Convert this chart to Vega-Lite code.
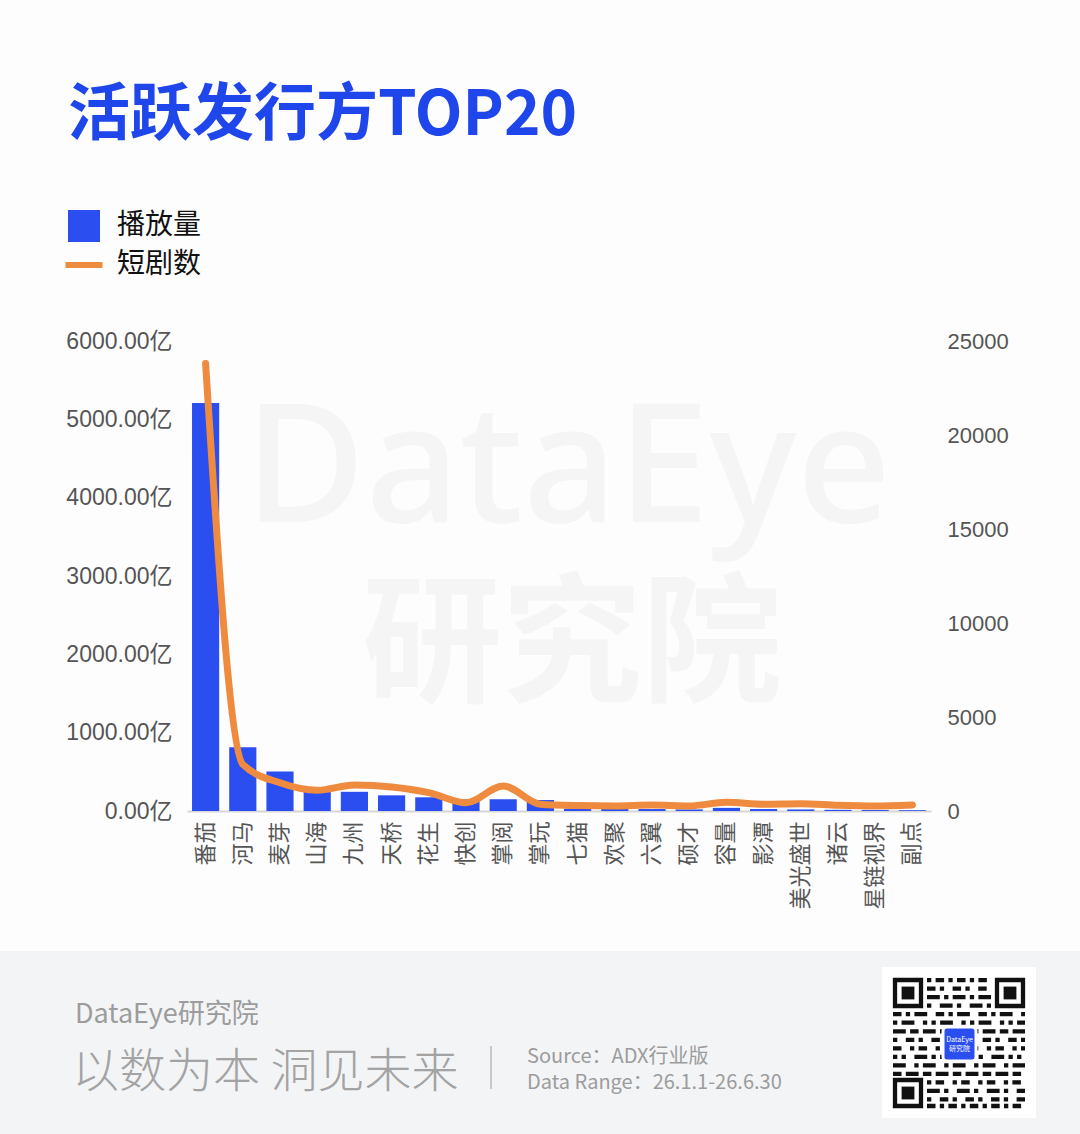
{
  "$schema": "https://vega.github.io/schema/vega-lite/v6.json",
  "background": "#fdfdfd",
  "padding": {"left": 0, "right": 0, "top": 85, "bottom": 0},
  "autosize": {"type": "pad"},
  "width": 744,
  "height": 470,
  "title": {
    "text": "活跃发行方TOP20",
    "anchor": "start",
    "frame": "group",
    "dx": -119,
    "offset": 64,
    "fontSize": 62,
    "fontWeight": "bold",
    "font": "Noto Sans CJK SC",
    "color": "#1f46ea"
  },
  "config": {
    "view": {"stroke": null},
    "axis": {
      "grid": false,
      "ticks": false,
      "labelFont": "Liberation Sans, Noto Sans CJK SC",
      "labelFontSize": 22,
      "labelColor": "#555555",
      "title": null
    }
  },
  "layer": [
    {
      "data": {"values": [{}]},
      "layer": [
        {
          "mark": {"type": "text", "text": "DataEye", "fontSize": 165, "font": "Noto Sans", "fontWeight": 500, "color": "#f5f5f5", "align": "center", "baseline": "alphabetic"},
          "encoding": {
            "x": {"datum": 568, "type": "quantitative", "scale": {"domain": [187, 931], "nice": false, "zero": false}, "axis": null},
            "y": {"datum": 521, "type": "quantitative", "scale": {"domain": [340, 810], "reverse": true, "nice": false, "zero": false}, "axis": null}
          }
        },
        {
          "mark": {"type": "text", "text": "研究院", "fontSize": 140, "font": "Noto Sans CJK SC", "fontWeight": "bold", "color": "#f5f5f5", "align": "center", "baseline": "alphabetic"},
          "encoding": {
            "x": {"datum": 572, "type": "quantitative", "scale": {"domain": [187, 931], "nice": false, "zero": false}, "axis": null},
            "y": {"datum": 690, "type": "quantitative", "scale": {"domain": [340, 810], "reverse": true, "nice": false, "zero": false}, "axis": null}
          }
        },
        {
          "mark": {"type": "rect", "color": "#f3f4f6"},
          "encoding": {
            "x": {"datum": 0, "type": "quantitative", "scale": {"domain": [187, 931], "nice": false, "zero": false}, "axis": null},
            "x2": {"datum": 1080},
            "y": {"datum": 950, "type": "quantitative", "scale": {"domain": [340, 810], "reverse": true, "nice": false, "zero": false}, "axis": null},
            "y2": {"datum": 1134}
          }
        },
        {
          "mark": {"type": "text", "text": "DataEye研究院", "fontSize": 27, "font": "Noto Sans CJK SC", "color": "#9c9c9c", "align": "left", "baseline": "alphabetic"},
          "encoding": {
            "x": {"datum": 75, "type": "quantitative", "scale": {"domain": [187, 931], "nice": false, "zero": false}, "axis": null},
            "y": {"datum": 1022, "type": "quantitative", "scale": {"domain": [340, 810], "reverse": true, "nice": false, "zero": false}, "axis": null}
          }
        },
        {
          "mark": {"type": "text", "text": "以数为本 洞见未来", "fontSize": 47, "font": "Noto Sans CJK SC", "fontWeight": 300, "color": "#a3a3a3", "align": "left", "baseline": "alphabetic"},
          "encoding": {
            "x": {"datum": 72, "type": "quantitative", "scale": {"domain": [187, 931], "nice": false, "zero": false}, "axis": null},
            "y": {"datum": 1086, "type": "quantitative", "scale": {"domain": [340, 810], "reverse": true, "nice": false, "zero": false}, "axis": null}
          }
        },
        {
          "mark": {"type": "rule", "color": "#c8c8c8", "strokeWidth": 2},
          "encoding": {
            "x": {"datum": 491, "type": "quantitative", "scale": {"domain": [187, 931], "nice": false, "zero": false}, "axis": null},
            "y": {"datum": 1045, "type": "quantitative", "scale": {"domain": [340, 810], "reverse": true, "nice": false, "zero": false}, "axis": null},
            "y2": {"datum": 1088}
          }
        },
        {
          "mark": {"type": "text", "text": "Source：ADX行业版", "fontSize": 20, "font": "Noto Sans CJK SC", "color": "#9c9c9c", "align": "left", "baseline": "alphabetic"},
          "encoding": {
            "x": {"datum": 527, "type": "quantitative", "scale": {"domain": [187, 931], "nice": false, "zero": false}, "axis": null},
            "y": {"datum": 1062, "type": "quantitative", "scale": {"domain": [340, 810], "reverse": true, "nice": false, "zero": false}, "axis": null}
          }
        },
        {
          "mark": {"type": "text", "text": "Data Range：26.1.1-26.6.30", "fontSize": 20, "font": "Noto Sans CJK SC", "color": "#9c9c9c", "align": "left", "baseline": "alphabetic"},
          "encoding": {
            "x": {"datum": 527, "type": "quantitative", "scale": {"domain": [187, 931], "nice": false, "zero": false}, "axis": null},
            "y": {"datum": 1088, "type": "quantitative", "scale": {"domain": [340, 810], "reverse": true, "nice": false, "zero": false}, "axis": null}
          }
        },
        {
          "mark": {"type": "rect", "color": "#ffffff"},
          "encoding": {
            "x": {"datum": 882, "type": "quantitative", "scale": {"domain": [187, 931], "nice": false, "zero": false}, "axis": null},
            "x2": {"datum": 1036},
            "y": {"datum": 966, "type": "quantitative", "scale": {"domain": [340, 810], "reverse": true, "nice": false, "zero": false}, "axis": null},
            "y2": {"datum": 1117}
          }
        },
        {
          "mark": {"type": "rule", "color": "#111111", "strokeWidth": 4.3, "strokeDash": [4.3, 4.3, 8.5, 4.3]},
          "encoding": {
            "x": {"datum": 927, "type": "quantitative", "scale": {"domain": [187, 931], "nice": false, "zero": false}, "axis": null},
            "x2": {"datum": 991},
            "y": {"datum": 979.1, "type": "quantitative", "scale": {"domain": [340, 810], "reverse": true, "nice": false, "zero": false}, "axis": null}
          }
        },
        {
          "mark": {"type": "rule", "color": "#111111", "strokeWidth": 4.3, "strokeDash": [8.5, 4.3, 4.3, 8.5]},
          "encoding": {
            "x": {"datum": 927, "type": "quantitative", "scale": {"domain": [187, 931], "nice": false, "zero": false}, "axis": null},
            "x2": {"datum": 991},
            "y": {"datum": 987.7, "type": "quantitative", "scale": {"domain": [340, 810], "reverse": true, "nice": false, "zero": false}, "axis": null}
          }
        },
        {
          "mark": {"type": "rule", "color": "#111111", "strokeWidth": 4.3, "strokeDash": [12.8, 4.3, 4.3, 4.3]},
          "encoding": {
            "x": {"datum": 927, "type": "quantitative", "scale": {"domain": [187, 931], "nice": false, "zero": false}, "axis": null},
            "x2": {"datum": 991},
            "y": {"datum": 996.2, "type": "quantitative", "scale": {"domain": [340, 810], "reverse": true, "nice": false, "zero": false}, "axis": null}
          }
        },
        {
          "mark": {"type": "rule", "color": "#111111", "strokeWidth": 4.3, "strokeDash": [4.3, 8.5, 12.8, 4.3]},
          "encoding": {
            "x": {"datum": 927, "type": "quantitative", "scale": {"domain": [187, 931], "nice": false, "zero": false}, "axis": null},
            "x2": {"datum": 991},
            "y": {"datum": 1004.7, "type": "quantitative", "scale": {"domain": [340, 810], "reverse": true, "nice": false, "zero": false}, "axis": null}
          }
        },
        {
          "mark": {"type": "rule", "color": "#111111", "strokeWidth": 4.3, "strokeDash": [8.5, 4.3, 4.3, 4.3, 12.8, 8.5]},
          "encoding": {
            "x": {"datum": 893, "type": "quantitative", "scale": {"domain": [187, 931], "nice": false, "zero": false}, "axis": null},
            "x2": {"datum": 1025},
            "y": {"datum": 1013.2, "type": "quantitative", "scale": {"domain": [340, 810], "reverse": true, "nice": false, "zero": false}, "axis": null}
          }
        },
        {
          "mark": {"type": "rule", "color": "#111111", "strokeWidth": 4.3, "strokeDash": [4.3, 4.3, 12.8, 8.5, 4.3, 4.3]},
          "encoding": {
            "x": {"datum": 893, "type": "quantitative", "scale": {"domain": [187, 931], "nice": false, "zero": false}, "axis": null},
            "x2": {"datum": 1025},
            "y": {"datum": 1021.7, "type": "quantitative", "scale": {"domain": [340, 810], "reverse": true, "nice": false, "zero": false}, "axis": null}
          }
        },
        {
          "mark": {"type": "rule", "color": "#111111", "strokeWidth": 4.3, "strokeDash": [12.8, 4.3, 8.5, 4.3]},
          "encoding": {
            "x": {"datum": 893, "type": "quantitative", "scale": {"domain": [187, 931], "nice": false, "zero": false}, "axis": null},
            "x2": {"datum": 1025},
            "y": {"datum": 1030.3, "type": "quantitative", "scale": {"domain": [340, 810], "reverse": true, "nice": false, "zero": false}, "axis": null}
          }
        },
        {
          "mark": {"type": "rule", "color": "#111111", "strokeWidth": 4.3, "strokeDash": [4.3, 8.5, 8.5, 4.3]},
          "encoding": {
            "x": {"datum": 893, "type": "quantitative", "scale": {"domain": [187, 931], "nice": false, "zero": false}, "axis": null},
            "x2": {"datum": 1025},
            "y": {"datum": 1038.8, "type": "quantitative", "scale": {"domain": [340, 810], "reverse": true, "nice": false, "zero": false}, "axis": null}
          }
        },
        {
          "mark": {"type": "rule", "color": "#111111", "strokeWidth": 4.3, "strokeDash": [8.5, 8.5, 4.3, 4.3]},
          "encoding": {
            "x": {"datum": 893, "type": "quantitative", "scale": {"domain": [187, 931], "nice": false, "zero": false}, "axis": null},
            "x2": {"datum": 1025},
            "y": {"datum": 1047.3, "type": "quantitative", "scale": {"domain": [340, 810], "reverse": true, "nice": false, "zero": false}, "axis": null}
          }
        },
        {
          "mark": {"type": "rule", "color": "#111111", "strokeWidth": 4.3, "strokeDash": [4.3, 4.3, 4.3, 8.5, 12.8, 4.3]},
          "encoding": {
            "x": {"datum": 893, "type": "quantitative", "scale": {"domain": [187, 931], "nice": false, "zero": false}, "axis": null},
            "x2": {"datum": 1025},
            "y": {"datum": 1055.8, "type": "quantitative", "scale": {"domain": [340, 810], "reverse": true, "nice": false, "zero": false}, "axis": null}
          }
        },
        {
          "mark": {"type": "rule", "color": "#111111", "strokeWidth": 4.3, "strokeDash": [12.8, 8.5, 4.3, 4.3]},
          "encoding": {
            "x": {"datum": 893, "type": "quantitative", "scale": {"domain": [187, 931], "nice": false, "zero": false}, "axis": null},
            "x2": {"datum": 1025},
            "y": {"datum": 1064.3, "type": "quantitative", "scale": {"domain": [340, 810], "reverse": true, "nice": false, "zero": false}, "axis": null}
          }
        },
        {
          "mark": {"type": "rule", "color": "#111111", "strokeWidth": 4.3, "strokeDash": [8.5, 4.3, 12.8, 4.3]},
          "encoding": {
            "x": {"datum": 893, "type": "quantitative", "scale": {"domain": [187, 931], "nice": false, "zero": false}, "axis": null},
            "x2": {"datum": 1025},
            "y": {"datum": 1072.9, "type": "quantitative", "scale": {"domain": [340, 810], "reverse": true, "nice": false, "zero": false}, "axis": null}
          }
        },
        {
          "mark": {"type": "rule", "color": "#111111", "strokeWidth": 4.3, "strokeDash": [4.3, 4.3, 8.5, 8.5]},
          "encoding": {
            "x": {"datum": 927, "type": "quantitative", "scale": {"domain": [187, 931], "nice": false, "zero": false}, "axis": null},
            "x2": {"datum": 1025},
            "y": {"datum": 1081.4, "type": "quantitative", "scale": {"domain": [340, 810], "reverse": true, "nice": false, "zero": false}, "axis": null}
          }
        },
        {
          "mark": {"type": "rule", "color": "#111111", "strokeWidth": 4.3, "strokeDash": [12.8, 4.3, 4.3, 8.5]},
          "encoding": {
            "x": {"datum": 927, "type": "quantitative", "scale": {"domain": [187, 931], "nice": false, "zero": false}, "axis": null},
            "x2": {"datum": 1025},
            "y": {"datum": 1089.9, "type": "quantitative", "scale": {"domain": [340, 810], "reverse": true, "nice": false, "zero": false}, "axis": null}
          }
        },
        {
          "mark": {"type": "rule", "color": "#111111", "strokeWidth": 4.3, "strokeDash": [4.3, 8.5, 8.5, 4.3]},
          "encoding": {
            "x": {"datum": 927, "type": "quantitative", "scale": {"domain": [187, 931], "nice": false, "zero": false}, "axis": null},
            "x2": {"datum": 1025},
            "y": {"datum": 1098.4, "type": "quantitative", "scale": {"domain": [340, 810], "reverse": true, "nice": false, "zero": false}, "axis": null}
          }
        },
        {
          "mark": {"type": "rule", "color": "#111111", "strokeWidth": 4.3, "strokeDash": [8.5, 4.3, 4.3, 4.3]},
          "encoding": {
            "x": {"datum": 927, "type": "quantitative", "scale": {"domain": [187, 931], "nice": false, "zero": false}, "axis": null},
            "x2": {"datum": 1025},
            "y": {"datum": 1105, "type": "quantitative", "scale": {"domain": [340, 810], "reverse": true, "nice": false, "zero": false}, "axis": null}
          }
        },
        {
          "mark": {"type": "rect", "fill": "#ffffff", "stroke": "#111111", "strokeWidth": 4.3},
          "encoding": {
            "x": {"datum": 895, "type": "quantitative", "scale": {"domain": [187, 931], "nice": false, "zero": false}, "axis": null},
            "x2": {"datum": 921},
            "y": {"datum": 979, "type": "quantitative", "scale": {"domain": [340, 810], "reverse": true, "nice": false, "zero": false}, "axis": null},
            "y2": {"datum": 1005}
          }
        },
        {
          "mark": {"type": "rect", "fill": "#ffffff", "stroke": "#111111", "strokeWidth": 4.3},
          "encoding": {
            "x": {"datum": 997, "type": "quantitative", "scale": {"domain": [187, 931], "nice": false, "zero": false}, "axis": null},
            "x2": {"datum": 1023},
            "y": {"datum": 979, "type": "quantitative", "scale": {"domain": [340, 810], "reverse": true, "nice": false, "zero": false}, "axis": null},
            "y2": {"datum": 1005}
          }
        },
        {
          "mark": {"type": "rect", "fill": "#ffffff", "stroke": "#111111", "strokeWidth": 4.3},
          "encoding": {
            "x": {"datum": 895, "type": "quantitative", "scale": {"domain": [187, 931], "nice": false, "zero": false}, "axis": null},
            "x2": {"datum": 921},
            "y": {"datum": 1079, "type": "quantitative", "scale": {"domain": [340, 810], "reverse": true, "nice": false, "zero": false}, "axis": null},
            "y2": {"datum": 1105}
          }
        },
        {
          "mark": {"type": "rect", "color": "#111111"},
          "encoding": {
            "x": {"datum": 901.6, "type": "quantitative", "scale": {"domain": [187, 931], "nice": false, "zero": false}, "axis": null},
            "x2": {"datum": 914.4},
            "y": {"datum": 985.6, "type": "quantitative", "scale": {"domain": [340, 810], "reverse": true, "nice": false, "zero": false}, "axis": null},
            "y2": {"datum": 998.4}
          }
        },
        {
          "mark": {"type": "rect", "color": "#111111"},
          "encoding": {
            "x": {"datum": 1003.6, "type": "quantitative", "scale": {"domain": [187, 931], "nice": false, "zero": false}, "axis": null},
            "x2": {"datum": 1016.4},
            "y": {"datum": 985.6, "type": "quantitative", "scale": {"domain": [340, 810], "reverse": true, "nice": false, "zero": false}, "axis": null},
            "y2": {"datum": 998.4}
          }
        },
        {
          "mark": {"type": "rect", "color": "#111111"},
          "encoding": {
            "x": {"datum": 901.6, "type": "quantitative", "scale": {"domain": [187, 931], "nice": false, "zero": false}, "axis": null},
            "x2": {"datum": 914.4},
            "y": {"datum": 1085.6, "type": "quantitative", "scale": {"domain": [340, 810], "reverse": true, "nice": false, "zero": false}, "axis": null},
            "y2": {"datum": 1098.4}
          }
        },
        {
          "mark": {"type": "rect", "fill": "#2b4ef0", "stroke": "#ffffff", "strokeWidth": 3, "cornerRadius": 4},
          "encoding": {
            "x": {"datum": 943, "type": "quantitative", "scale": {"domain": [187, 931], "nice": false, "zero": false}, "axis": null},
            "x2": {"datum": 976},
            "y": {"datum": 1026, "type": "quantitative", "scale": {"domain": [340, 810], "reverse": true, "nice": false, "zero": false}, "axis": null},
            "y2": {"datum": 1060}
          }
        },
        {
          "mark": {"type": "text", "text": ["DataEye", "研究院"], "fontSize": 7, "lineHeight": 9, "font": "Noto Sans CJK SC", "color": "#ffffff", "align": "center", "baseline": "middle"},
          "encoding": {
            "x": {"datum": 959.5, "type": "quantitative", "scale": {"domain": [187, 931], "nice": false, "zero": false}, "axis": null},
            "y": {"datum": 1039, "type": "quantitative", "scale": {"domain": [340, 810], "reverse": true, "nice": false, "zero": false}, "axis": null}
          }
        }
      ]
    },
    {
      "data": {
        "values": [
          {"publisher": "番茄", "plays": 5210, "dramas": 23800},
          {"publisher": "河马", "plays": 815, "dramas": 2480},
          {"publisher": "麦芽", "plays": 505, "dramas": 1500},
          {"publisher": "山海", "plays": 260, "dramas": 1100},
          {"publisher": "九州", "plays": 245, "dramas": 1380},
          {"publisher": "天桥", "plays": 200, "dramas": 1280},
          {"publisher": "花生", "plays": 175, "dramas": 980},
          {"publisher": "快创", "plays": 150, "dramas": 440},
          {"publisher": "掌阅", "plays": 150, "dramas": 1330},
          {"publisher": "掌玩", "plays": 140, "dramas": 360},
          {"publisher": "七猫", "plays": 30, "dramas": 290},
          {"publisher": "欢聚", "plays": 28, "dramas": 270},
          {"publisher": "六翼", "plays": 25, "dramas": 320},
          {"publisher": "硕才", "plays": 20, "dramas": 270},
          {"publisher": "容量", "plays": 40, "dramas": 460},
          {"publisher": "影潭", "plays": 25, "dramas": 360},
          {"publisher": "美光盛世", "plays": 20, "dramas": 390},
          {"publisher": "诸云", "plays": 15, "dramas": 300},
          {"publisher": "星链视界", "plays": 12, "dramas": 260},
          {"publisher": "副点", "plays": 10, "dramas": 320}
        ]
      },
      "encoding": {
        "x": {
          "field": "publisher",
          "type": "nominal",
          "sort": null,
          "scale": {"paddingInner": 0.27, "paddingOuter": 0.135},
          "axis": {
            "labelAngle": -90,
            "labelPadding": 10,
            "labelFont": "Noto Sans CJK SC",
            "labelFontSize": 22,
            "domain": true,
            "domainColor": "#d6d6d6",
            "domainWidth": 2
          }
        },
        "color": {
          "scale": {"domain": ["播放量", "短剧数"], "range": ["#2b4ef0", "#ef8b3f"]},
          "legend": {
            "title": null,
            "orient": "none",
            "legendX": -117,
            "legendY": -129,
            "padding": 0,
            "rowPadding": 9,
            "labelOffset": 19,
            "labelFont": "Noto Sans CJK SC",
            "labelFontSize": 28,
            "labelColor": "#111111",
            "encode": {
              "symbols": {
                "update": {
                  "shape": {"signal": "datum.value === '短剧数' ? 'stroke' : 'square'"},
                  "size": {"signal": "datum.value === '短剧数' ? 1369 : 1024"},
                  "fill": {"signal": "datum.value === '短剧数' ? 'transparent' : '#2b4ef0'"},
                  "stroke": {"signal": "datum.value === '短剧数' ? '#ef8b3f' : 'transparent'"},
                  "strokeWidth": {"signal": "datum.value === '短剧数' ? 6 : 0"},
                  "opacity": {"value": 1}
                }
              }
            }
          }
        }
      },
      "layer": [
        {
          "mark": {"type": "bar"},
          "encoding": {
            "y": {
              "field": "plays",
              "type": "quantitative",
              "scale": {"domain": [0, 6000], "nice": false},
              "axis": {
                "orient": "left",
                "values": [0, 1000, 2000, 3000, 4000, 5000, 6000],
                "labelExpr": "format(datum.value, '.2f') + '亿'",
                "labelFontSize": 23,
                "labelPadding": 15,
                "domain": false
              }
            },
            "color": {"datum": "播放量"}
          }
        },
        {
          "mark": {"type": "line", "interpolate": "monotone", "strokeWidth": 7, "strokeCap": "round", "strokeJoin": "round"},
          "encoding": {
            "y": {
              "field": "dramas",
              "type": "quantitative",
              "scale": {"domain": [0, 25000], "nice": false},
              "axis": {
                "orient": "right",
                "values": [0, 5000, 10000, 15000, 20000, 25000],
                "format": "d",
                "labelPadding": 16,
                "domain": false
              }
            },
            "color": {"datum": "短剧数"}
          }
        }
      ],
      "resolve": {"scale": {"y": "independent"}}
    }
  ],
  "resolve": {"scale": {"x": "independent", "y": "independent"}}
}
